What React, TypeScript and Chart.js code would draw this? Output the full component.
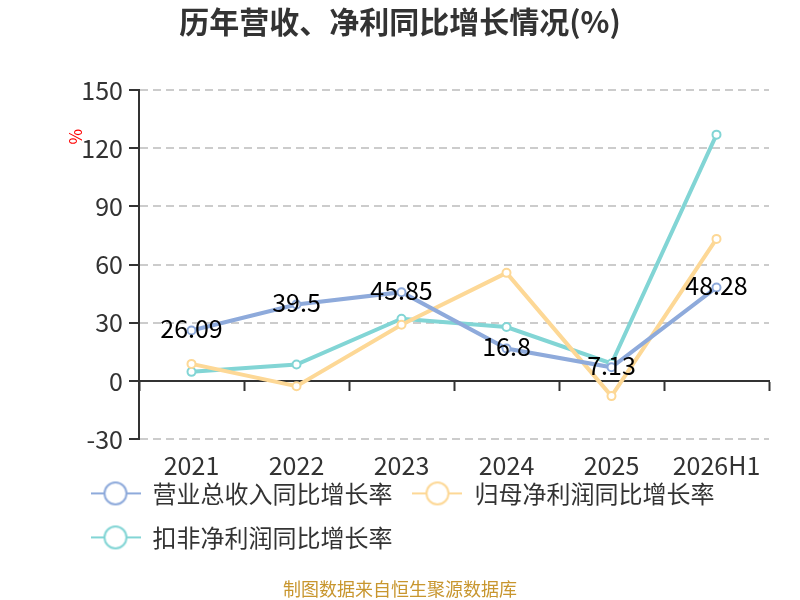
import React, { useEffect, useRef } from "react";
import { Chart, registerables } from "chart.js";

Chart.register(...registerables);

const categories = ["2021", "2022", "2023", "2024", "2025", "2026H1"];
const seriesNames = ["营业总收入同比增长率", "归母净利润同比增长率", "扣非净利润同比增长率"];
const revenueGrowth = [26.09, 39.5, 45.85, 16.8, 7.13, 48.28];
const netProfitGrowth = [8.9, -2.6, 29.1, 55.8, -7.7, 73.3];
const deductedProfitGrowth = [4.8, 8.6, 32.2, 27.9, 9.1, 127];
const yMin = -30;
const yMax = 150;
const yStep = 30;

const colors = ["#8eaadb", "#fdd896", "#82d5d5"];
const FONT = '"Noto Sans CJK SC", "Noto Sans", sans-serif';

// legend icon: line through a hollow circle
const makeIcon = (color: string) => {
  const c = document.createElement("canvas");
  c.width = 50;
  c.height = 26;
  const g = c.getContext("2d")!;
  g.strokeStyle = color;
  g.lineWidth = 2;
  g.beginPath();
  g.moveTo(0, 13);
  g.lineTo(50, 13);
  g.stroke();
  g.beginPath();
  g.arc(25, 13, 11, 0, Math.PI * 2);
  g.fillStyle = "#fff";
  g.fill();
  g.stroke();
  return c;
};

const valueLabels = {
  id: "valueLabels",
  afterDatasetsDraw(chart: any) {
    const { ctx } = chart;
    const meta = chart.getDatasetMeta(0);
    ctx.save();
    ctx.font = `25px ${FONT}`;
    ctx.fillStyle = "#000";
    ctx.textAlign = "center";
    ctx.textBaseline = "middle";
    meta.data.forEach((pt: any, i: number) => {
      ctx.fillText(String(revenueGrowth[i]), pt.x, pt.y - 2);
    });
    ctx.restore();
  },
};

const unitLabel = {
  id: "unitLabel",
  afterDraw(chart: any) {
    const { ctx } = chart;
    const y = chart.scales.y;
    ctx.save();
    ctx.translate(y.left + 5, y.getPixelForValue(126));
    ctx.rotate(-Math.PI / 2);
    ctx.font = `17px ${FONT}`;
    ctx.fillStyle = "#ff0000";
    ctx.textAlign = "center";
    ctx.textBaseline = "middle";
    ctx.fillText("%", 0, 0);
    ctx.restore();
  },
};

// center title/footer on the full canvas and let x labels overflow their box
const fixLayout = {
  id: "fixLayout",
  afterLayout(chart: any) {
    chart.boxes.forEach((b: any) => {
      if (b.options && typeof b.options.text === "string") {
        b.left = 0;
        b.right = chart.width;
      }
    });
    const x = chart.scales.x;
    x.bottom = x.top + 50;
  },
};

const GrowthChart: React.FC = () => {
  const chartRef = useRef<HTMLCanvasElement | null>(null);

  useEffect(() => {
    document.body.style.margin = "0";
    if (!chartRef.current) return;
    const ctx = chartRef.current.getContext("2d");
    if (!ctx) return;

    const icons = colors.map(makeIcon);
    const seriesData = [revenueGrowth, netProfitGrowth, deductedProfitGrowth];

    const chart = new Chart(ctx, {
      type: "line",
      data: {
        labels: categories,
        datasets: seriesData.map((d, i) => ({
          label: seriesNames[i],
          data: d,
          borderColor: colors[i],
          backgroundColor: "#fff",
          borderWidth: 4,
          pointRadius: 4,
          pointBorderWidth: 2,
          pointBackgroundColor: "#fff",
          pointBorderColor: colors[i],
          tension: 0,
        })),
      },
      options: {
        animation: false,
        responsive: true,
        maintainAspectRatio: false,
        layout: { padding: { left: 70.5, right: 31 } },
        scales: {
          x: {
            type: "category",
            offset: true,
            grid: { display: false, drawTicks: false },
            border: { display: false },
            ticks: { color: "#333", font: { size: 25, family: FONT }, padding: 11 },
            afterFit: (scale: any) => {
              scale.height = 22;
            },
          },
          x2: {
            type: "category",
            labels: categories,
            position: { y: 0 } as any,
            offset: true,
            grid: {
              offset: true,
              drawOnChartArea: false,
              drawTicks: true,
              tickLength: 9,
              tickWidth: 2,
              tickColor: "#333",
            },
            border: { display: true, color: "#333", width: 2 },
            ticks: { display: false },
          },
          y: {
            min: yMin,
            max: yMax,
            ticks: {
              stepSize: yStep,
              color: "#333",
              padding: 6,
              font: { size: 25, family: FONT },
            },
            grid: {
              color: "#cccccc",
              lineWidth: 2,
              tickColor: "#333",
              tickLength: 10,
              tickWidth: 2,
            },
            border: { display: true, color: "#333", width: 2, dash: [8, 5] },
            afterFit: (scale: any) => {
              scale.width = 68.5;
            },
          },
        },
        plugins: {
          title: {
            display: true,
            text: "历年营收、净利同比增长情况(%)",
            color: "#333",
            font: { size: 30, weight: "bold", family: FONT },
            padding: { top: 4, bottom: 50 },
          },
          subtitle: {
            display: true,
            position: "bottom",
            text: "制图数据来自恒生聚源数据库",
            color: "#c8962e",
            font: { size: 18, family: FONT },
            padding: { top: 19, bottom: 0 },
          },
          legend: {
            position: "bottom",
            align: "start",
            labels: {
              usePointStyle: true,
              pointStyleWidth: 50,
              color: "#333",
              font: { size: 24, family: FONT },
              padding: 20,
              generateLabels: (c: any) =>
                Chart.defaults.plugins.legend.labels
                  .generateLabels(c)
                  .map((item: any, i: number) => ({ ...item, pointStyle: icons[i] })),
            },
          },
          tooltip: { enabled: false },
        },
      },
      plugins: [valueLabels, unitLabel, fixLayout],
    });

    return () => {
      chart.destroy();
    };
  }, []);

  return (
    <div style={{ width: 800, height: 600, position: "relative", background: "#fff" }}>
      <canvas ref={chartRef} />
    </div>
  );
};

export default function App() {
  return <GrowthChart />;
}
